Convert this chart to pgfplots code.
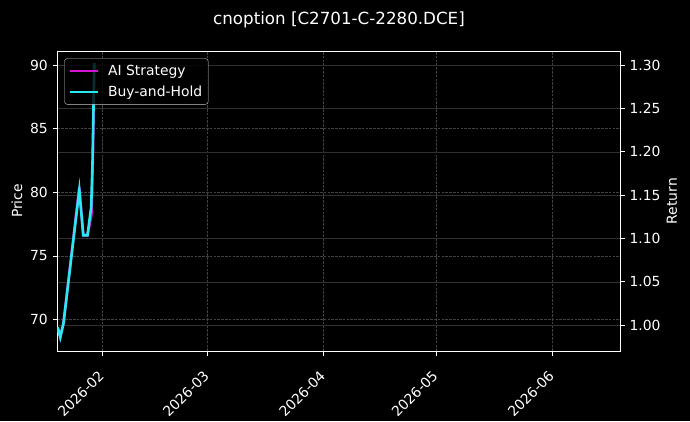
\documentclass[border=0pt]{standalone}
\usepackage{fontspec}
\setmainfont{DejaVu Sans}
\usepackage{pgfplots}
\usepackage{pgfplotstable}
\pgfplotsset{compat=1.18}

\definecolor{aimag}{RGB}{214,20,214}
\definecolor{bhcyan}{RGB}{40,232,240}
\definecolor{gridc}{RGB}{66,66,66}
\definecolor{gridr}{RGB}{48,48,48}
\definecolor{legframe}{RGB}{200,200,200}

% day of year 2026 (Jan 1 = 0), normalised return
\pgfplotstableread{
day   ret
19.11 0.9977
19.80 0.9862
20.65 1.0023
24.87 1.1558
25.93 1.1038
27.05 1.1038
28.04 1.1361
28.41 1.1904
28.87 1.3023
}\bhdata

\pgfplotstableread{
day   ret
19.11 0.9977
19.80 0.9862
20.65 1.0023
24.87 1.1590
25.93 1.1038
27.05 1.1038
28.10 1.1270
28.45 1.1850
28.87 1.3000
}\aidata

\pgfplotsset{
  darkax/.style={
    scale only axis, width=562.3pt, height=300pt,
    at={(0,0)}, anchor=south west,
    xmin=19.11, xmax=169.05,
    axis line style={white, line width=0.8pt},
    tick align=outside, major tick length=4.9pt,
    tick style={white, line width=0.8pt},
    ticklabel style={text=white, font=\fontsize{13.9}{16}\selectfont},
    label style={text=white, font=\fontsize{13.9}{16}\selectfont},
    /pgf/number format/assume math mode=true,
  },
}

\begin{document}
\begin{tikzpicture}
\fill[black] (-57.7pt,-70pt) rectangle (632.3pt,351pt);
\useasboundingbox (-57.7pt,-70pt) rectangle (632.3pt,351pt);

\node[anchor=base, text=white, font=\fontsize{16.7}{20}\selectfont]
  at (281.3pt,326pt) {cnoption [C2701-C-2280.DCE]};

\begin{axis}[
  darkax,
  tick pos=left,
  ymin=67.53, ymax=91.10,
  xtick={31,59,90,120,151},
  xticklabels={2026-02,2026-03,2026-04,2026-05,2026-06},
  xticklabel style={anchor=north east, inner sep=0pt, xshift=-4.7pt, yshift=-13.3pt, rotate=45},
  ytick={70,75,80,85,90},
  yticklabel style={inner sep=0pt, xshift=-4.9pt},
  xmajorgrids, ymajorgrids,
  grid style={gridc, line width=0.5pt, dash pattern=on 2.6pt off 1.2pt},
  ylabel={Price},
  ylabel style={at={(axis description cs:-0.0724,0.5)}, anchor=center, rotate=0},
]
\end{axis}

\begin{axis}[
  darkax,
  axis x line=none,
  axis y line*=right,
  ymin=0.9703, ymax=1.3162,
  ytick={1.00,1.05,1.10,1.15,1.20,1.25,1.30},
  yticklabel style={inner sep=0pt, xshift=4.5pt,
    /pgf/number format/.cd, fixed, fixed zerofill, precision=2},
  ymajorgrids,
  grid style={gridr, line width=0.5pt},
  ylabel={Return},
  ylabel style={at={(axis description cs:1.0925,0.5)}, anchor=center, rotate=0},
  legend cell align=left,
  legend image code/.code={\draw[#1] (0pt,0pt) -- (28pt,0pt);},
  legend style={at={(0.0117,0.9757)}, anchor=north west,
    fill=black, fill opacity=0.8, text opacity=1, draw=legframe,
    text=white, rounded corners=2.8pt,
    font=\fontsize{13.9}{16}\selectfont,
    inner xsep=4pt, inner ysep=4.5pt, row sep=5pt,
    /tikz/every odd column/.append style={column sep=7pt}},
]
\addplot[aimag, line width=2.6pt] table[x=day, y=ret] {\aidata};
\addlegendentry{AI Strategy}
\addplot[bhcyan, line width=2.6pt] table[x=day, y=ret] {\bhdata};
\addlegendentry{Buy-and-Hold}
\end{axis}
\end{tikzpicture}
\end{document}
